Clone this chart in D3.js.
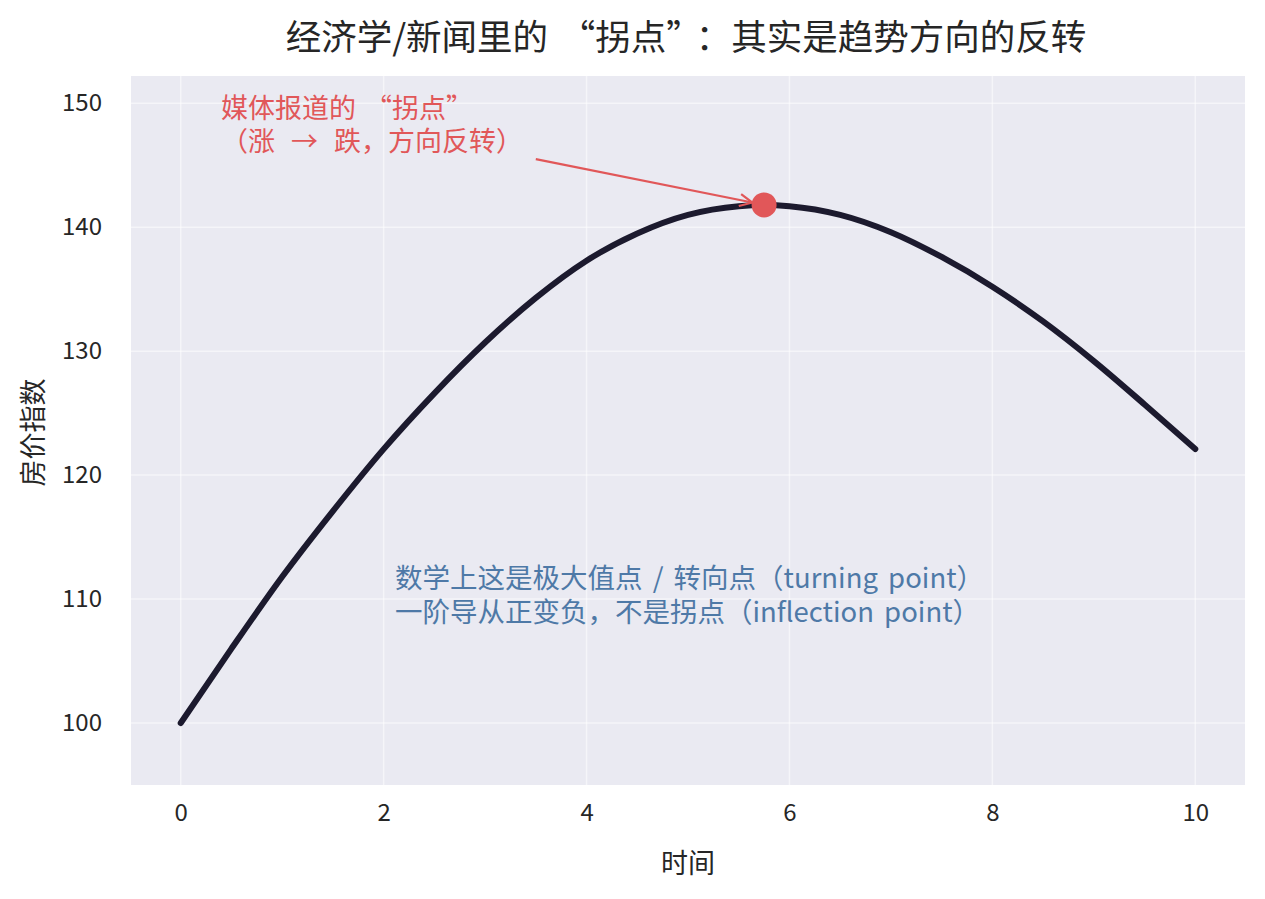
<!DOCTYPE html>
<html>
<head>
<meta charset="utf-8">
<script src="https://cdn.jsdelivr.net/npm/d3@7"></script>
<style>
  html, body { margin: 0; padding: 0; background: #ffffff; }
  svg { display: block; }
  text { font-family: "Noto Sans CJK SC", "Noto Sans", sans-serif; }
</style>
</head>
<body>
<svg id="chart" width="1265" height="899"></svg>
<script>
// ---- data ----
const timeValues  = [0, 0.5, 1, 1.5, 2, 2.5, 3, 3.5, 4, 4.5, 5, 5.5, 5.75, 6, 6.5, 7, 7.5, 8, 8.5, 9, 9.5, 10];
const priceValues = [100, 106.0, 111.8, 117.1, 122.1, 126.6, 130.7, 134.3, 137.3, 139.5, 141.0, 141.7, 141.8, 141.7, 141.0, 139.6, 137.6, 135.2, 132.4, 129.2, 125.7, 122.1];
const xTicks = [0, 2, 4, 6, 8, 10];
const yTicks = [100, 110, 120, 130, 140, 150];
const arrowStart = [3.5, 145.5];

const titleText = "经济学/新闻里的“拐点”：其实是趋势方向的反转";
const xLabel = "时间";
const yLabel = "房价指数";
const redLines = ["媒体报道的“拐点”", "（涨 → 跌，方向反转）"];
const blueLines = ["数学上这是极大值点 / 转向点（turning point）", "一阶导从正变负，不是拐点（inflection point）"];

// ---- helpers ----
// The reference sets curly quotes full-width; pad around them to match.
function fillText(sel, str, fontSize) {
  const pad = fontSize * 0.33;
  const parts = str.split(/([“”])/).filter(s => s.length);
  let padNext = false;
  parts.forEach(p => {
    const ts = sel.append("tspan").text(p);
    let dx = 0;
    if (padNext) { dx += pad; padNext = false; }
    if (p === "“") dx += pad;
    if (p === "”") padNext = true;
    if (dx) ts.attr("dx", dx);
  });
}

// ---- layout ----
const svg = d3.select("#chart");
const plot = { left: 131, right: 1245, top: 76, bottom: 785 };

const x = d3.scaleLinear().domain([-0.49, 10.49]).range([plot.left, plot.right]);
const y = d3.scaleLinear().domain([95, 152.2]).range([plot.bottom, plot.top]);

const points = timeValues.map((t, i) => ({ t, v: priceValues[i] }));

// background
svg.append("rect")
  .attr("x", plot.left).attr("y", plot.top)
  .attr("width", plot.right - plot.left).attr("height", plot.bottom - plot.top)
  .attr("fill", "#eaeaf2");

// grid
const grid = svg.append("g");
grid.selectAll("line.gx").data(xTicks).enter().append("line")
  .attr("x1", d => x(d)).attr("x2", d => x(d))
  .attr("y1", plot.top).attr("y2", plot.bottom)
  .attr("stroke", "#ffffff").attr("stroke-opacity", 0.5).attr("stroke-width", 1.5);
grid.selectAll("line.gy").data(yTicks).enter().append("line")
  .attr("y1", d => y(d)).attr("y2", d => y(d))
  .attr("x1", plot.left).attr("x2", plot.right)
  .attr("stroke", "#ffffff").attr("stroke-opacity", 0.5).attr("stroke-width", 1.5);

// axes (labels only, no spines / ticks)
const xAxis = svg.append("g")
  .attr("transform", `translate(0,${plot.bottom})`)
  .call(d3.axisBottom(x).tickValues(xTicks).tickSize(0).tickPadding(30).tickFormat(d3.format("d")));
const yAxis = svg.append("g")
  .attr("transform", `translate(${plot.left},0)`)
  .call(d3.axisLeft(y).tickValues(yTicks).tickSize(0).tickPadding(29).tickFormat(d3.format("d")));
[xAxis, yAxis].forEach(a => {
  a.select(".domain").remove();
  a.selectAll("text")
    .attr("font-family", '"Noto Sans CJK SC", sans-serif')
    .attr("font-size", 24).attr("fill", "#262626");
});
xAxis.selectAll("text").attr("dy", "0.71em").attr("y", 19);

// axis labels
svg.append("text")
  .attr("x", (plot.left + plot.right) / 2).attr("y", 873)
  .attr("text-anchor", "middle").attr("font-size", 27).attr("fill", "#262626")
  .text(xLabel);
svg.append("text")
  .attr("transform", `translate(43,${(plot.top + plot.bottom) / 2 + 2}) rotate(-90)`)
  .attr("text-anchor", "middle").attr("font-size", 27).attr("fill", "#262626")
  .text(yLabel);

// title
const titleSize = 35.5;
svg.append("text")
  .attr("x", (plot.left + plot.right) / 2 - 2).attr("y", 50)
  .attr("text-anchor", "middle").attr("font-size", titleSize).attr("fill", "#262626")
  .call(fillText, titleText, titleSize);

// curve
const line = d3.line().x(d => x(d.t)).y(d => y(d.v)).curve(d3.curveMonotoneX);
svg.append("path").datum(points)
  .attr("d", line)
  .attr("fill", "none").attr("stroke", "#1c1a2e")
  .attr("stroke-width", 6).attr("stroke-linecap", "round").attr("stroke-linejoin", "round");

// peak
const peak = points[d3.maxIndex(points, d => d.v)];

// arrow
const ax0 = x(arrowStart[0]), ay0 = y(arrowStart[1]);
const px = x(peak.t), py = y(peak.v);
const dx = px - ax0, dy = py - ay0, len = Math.hypot(dx, dy);
const ux = dx / len, uy = dy / len;
const ex = px - ux * 12, ey = py - uy * 12;
svg.append("line")
  .attr("x1", ax0).attr("y1", ay0).attr("x2", ex).attr("y2", ey)
  .attr("stroke", "#e15759").attr("stroke-width", 2.2);
const headLen = 14, headAng = Math.PI / 7;
const ang = Math.atan2(dy, dx);
const head = [
  [ex - headLen * Math.cos(ang - headAng), ey - headLen * Math.sin(ang - headAng)],
  [ex, ey],
  [ex - headLen * Math.cos(ang + headAng), ey - headLen * Math.sin(ang + headAng)]
];
svg.append("path")
  .attr("d", d3.line()(head))
  .attr("fill", "none").attr("stroke", "#e15759").attr("stroke-width", 2.2);

svg.append("circle")
  .attr("cx", px).attr("cy", py).attr("r", 12.5)
  .attr("fill", "#e15759");

// red annotation
const redSize = 27;
svg.append("g").selectAll("text").data(redLines).enter().append("text")
  .attr("x", 221).attr("y", (d, i) => 118 + i * 33)
  .attr("font-size", redSize).attr("fill", "#e15759")
  .attr("word-spacing", (d, i) => i === 1 ? 10 : 5)
  .each(function(d) { fillText(d3.select(this), d, redSize); });

// blue annotation
svg.append("g").selectAll("text").data(blueLines).enter().append("text")
  .attr("x", 395).attr("y", (d, i) => 588 + i * 34)
  .attr("font-size", 27.5).attr("fill", "#4e79a7")
  .attr("word-spacing", 4)
  .text(d => d);
</script>
</body>
</html>
